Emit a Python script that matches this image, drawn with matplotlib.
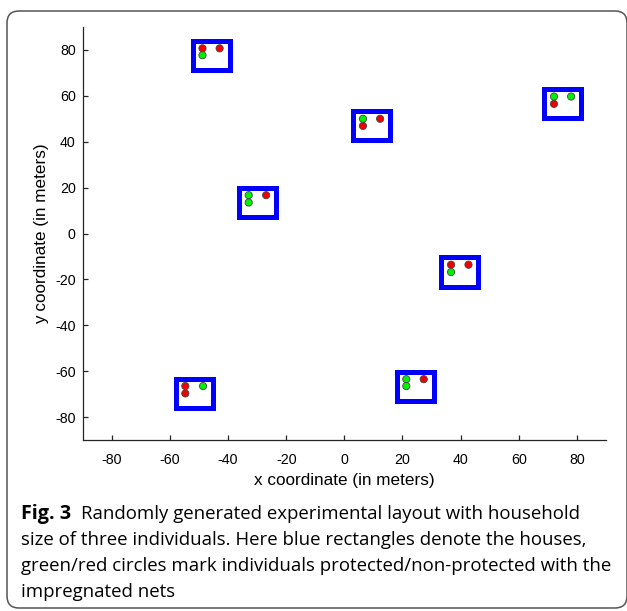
import matplotlib
matplotlib.use("Agg")
import matplotlib.pyplot as plt
from matplotlib.patches import Rectangle, FancyBboxPatch

# ---- data ----
house_x = [-45.8, -29.9, 9.3, 75.0, 39.7, -51.6, 24.4]
house_y = [77.7, 13.6, 46.9, 56.7, -16.8, -69.9, -66.5]

ind_x = [-48.8, -42.9, -48.8,
         -32.9, -26.9, -32.9,
         6.4, 12.3, 6.4,
         72.1, 78.0, 72.1,
         36.7, 42.7, 36.7,
         -54.7, -48.6, -54.7,
         21.3, 27.3, 21.3]
ind_y = [80.7, 80.7, 77.7,
         16.7, 16.7, 13.5,
         50.0, 50.0, 46.9,
         59.7, 59.7, 56.5,
         -13.6, -13.6, -16.8,
         -66.5, -66.5, -69.7,
         -63.5, -63.5, -66.5]
ind_protected = [0, 0, 1,
                 1, 0, 1,
                 1, 0, 0,
                 1, 1, 0,
                 0, 0, 1,
                 0, 1, 0,
                 1, 0, 1]

ticks = [-80, -60, -40, -20, 0, 20, 40, 60, 80]
tick_labels = [str(t) for t in ticks]

caption_bold = "Fig. 3"
caption_lines = [
    "Randomly generated experimental layout with household",
    "size of three individuals. Here blue rectangles denote the houses,",
    "green/red circles mark individuals protected/non-protected with the",
    "impregnated nets",
]

# ---- figure ----
W, H, DPI = 627, 611, 100
fig = plt.figure(figsize=(W / DPI, H / DPI), dpi=DPI)

# rounded frame
frame = FancyBboxPatch((0.07, 0.03), 6.20, 5.97,
                       boxstyle="round,pad=0,rounding_size=0.12",
                       transform=fig.dpi_scale_trans, fill=False,
                       edgecolor="#555555", linewidth=1.1, clip_on=False)
fig.patches.append(frame)

ax_l, ax_r, ax_t, ax_b = 82.7, 606, 27, 440
ax_w, ax_h = ax_r - ax_l, ax_b - ax_t
ax = fig.add_axes([ax_l / W, (H - ax_b) / H, ax_w / W, ax_h / H])

house_size = 12.7
for hx, hy in zip(house_x, house_y):
    ax.add_patch(Rectangle((hx - house_size / 2, hy - house_size / 2),
                           house_size, house_size, fill=False,
                           edgecolor=(0, 0, 1), linewidth=3.6, zorder=2))

colors = [(0, 0.95, 0) if p else (0.95, 0, 0) for p in ind_protected]
ax.scatter(ind_x, ind_y, s=27, c=colors, edgecolors="#444444",
           linewidths=0.6, zorder=3)

ax.set_xlim(-90, 90)
ax.set_ylim(-90, 90)
ax.set_xticks(ticks)
ax.set_xticklabels(tick_labels)
ax.set_yticks(ticks)
ax.set_yticklabels(tick_labels)
for s in ("top", "right"):
    ax.spines[s].set_visible(False)
for s in ("left", "bottom"):
    ax.spines[s].set_color("#262626")
    ax.spines[s].set_linewidth(0.9)
ax.tick_params(direction="in", length=3.5, width=0.9, color="#262626",
               labelsize=10.3, labelcolor="black")
ax.tick_params(axis="x", pad=9)
ax.tick_params(axis="y", pad=5)
for lab in ax.get_xticklabels() + ax.get_yticklabels():
    lab.set_fontfamily("Liberation Sans")
ax.set_xlabel("x coordinate (in meters)", fontsize=12.3, family="Liberation Sans")
ax.set_ylabel("y coordinate (in meters)", fontsize=12.3, family="Liberation Sans")
ax.xaxis.set_label_coords(0.5, (ax_b - 473.5) / ax_h)
ax.yaxis.set_label_coords((48.6 - ax_l) / ax_w, 0.5)

# caption, font size fitted so the widest line matches the reference width
cap_font = "Open Sans"
renderer = fig.canvas.get_renderer()
x_left = 21
probe = fig.text(0, 0, caption_lines[2], fontsize=12, family=cap_font)
w12 = probe.get_window_extent(renderer).width
probe.remove()
cap_size = 12 * (607 - x_left) / w12

baselines = [519, 545, 571, 597]
tb = fig.text(x_left / W, 1 - baselines[0] / H, caption_bold,
              fontsize=cap_size * 1.06, family=cap_font, fontweight="bold",
              va="baseline", ha="left")
bw = tb.get_window_extent(renderer).width
fig.text((x_left + bw + 10) / W, 1 - baselines[0] / H, caption_lines[0],
         fontsize=cap_size, family=cap_font, va="baseline", ha="left")
for i, line in enumerate(caption_lines[1:], start=1):
    fig.text(x_left / W, 1 - baselines[i] / H, line, fontsize=cap_size,
             family=cap_font, va="baseline", ha="left")

fig.savefig("out.png", dpi=DPI)
